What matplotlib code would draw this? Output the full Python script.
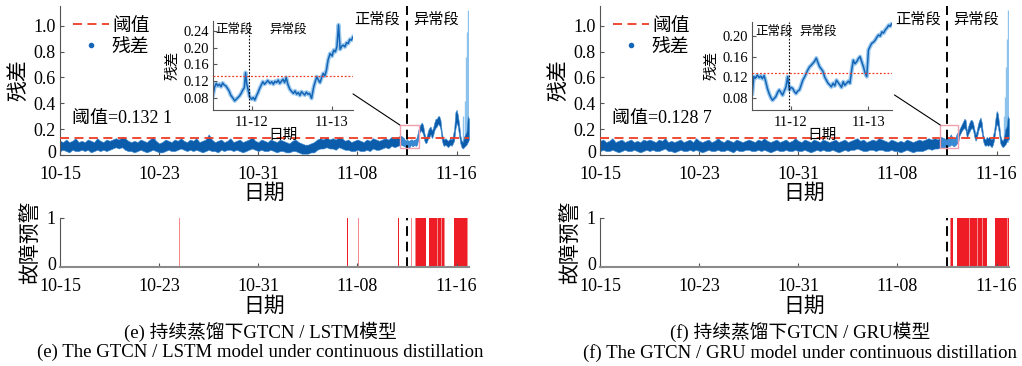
import numpy as np
import matplotlib.pyplot as plt
from matplotlib.patches import Rectangle, ConnectionPatch
from matplotlib.transforms import ScaledTranslation

plt.rcParams['font.family'] = ['Liberation Serif', 'Noto Sans CJK SC']
plt.rcParams['axes.unicode_minus'] = False

# x axis is in days since 10-15
tick_days = [0, 8, 16, 24, 32]
tick_labels = ['10-15', '10-23', '10-31', '11-08', '11-16']
ins_tick_days = [28, 29]
ins_tick_labels = ['11-12', '11-13']
t_change = 27.97

thr_e = 0.1321
thr_f = 0.1287

# residual band (low / high edge) read every 0.25 day, 10-15 .. 11-11 18:00
lo_e = [0.03, 0.04, 0.03, 0.02, 0.04, 0.03, 0.03, 0.04,
        0.03, 0.04, 0.02, 0.03, 0.04, 0.03, 0.04, 0.03,
        0.04, 0.05, 0.06, 0.05, 0.06, 0.04, 0.03, 0.03,
        0.02, 0.03, 0.04, 0.03, 0.02, 0.03, 0.04, 0.03,
        0.02, 0.02, 0.03, 0.04, 0.03, 0.03, 0.04, 0.05,
        0.04, 0.03, 0.04, 0.03, 0.04, 0.03, 0.02, 0.03,
        0.04, 0.03, 0.03, 0.02, 0.04, 0.03, 0.04, 0.04,
        0.03, 0.04, 0.03, 0.02, 0.03, 0.04, 0.05, 0.04,
        0.03, 0.04, 0.03, 0.03, 0.04, 0.03, 0.02, 0.03,
        0.03, 0.02, 0.02, 0.03, 0.03, 0.02, 0.01, 0.01,
        0.01, 0.02, 0.02, 0.04, 0.05, 0.05, 0.06, 0.05,
        0.05, 0.04, 0.06, 0.05, 0.04, 0.04, 0.03, 0.03,
        0.04, 0.03, 0.03, 0.04, 0.03, 0.05, 0.04, 0.04,
        0.05, 0.06, 0.05, 0.07, 0.06, 0.07, 0.08, 0.07]
hi_e = [0.11, 0.10, 0.12, 0.10, 0.11, 0.13, 0.10, 0.11,
        0.10, 0.12, 0.11, 0.10, 0.13, 0.11, 0.10, 0.12,
        0.11, 0.12, 0.13, 0.12, 0.14, 0.13, 0.11, 0.10,
        0.11, 0.10, 0.12, 0.11, 0.10, 0.12, 0.14, 0.11,
        0.09, 0.10, 0.12, 0.11, 0.10, 0.12, 0.11, 0.13,
        0.11, 0.10, 0.12, 0.11, 0.13, 0.10, 0.11, 0.12,
        0.16, 0.12, 0.10, 0.11, 0.12, 0.10, 0.11, 0.13,
        0.10, 0.11, 0.12, 0.10, 0.11, 0.12, 0.14, 0.11,
        0.10, 0.12, 0.11, 0.10, 0.12, 0.11, 0.10, 0.12,
        0.11, 0.10, 0.09, 0.11, 0.12, 0.10, 0.09, 0.08,
        0.08, 0.09, 0.10, 0.12, 0.13, 0.12, 0.14, 0.12,
        0.13, 0.12, 0.14, 0.13, 0.11, 0.12, 0.10, 0.11,
        0.12, 0.11, 0.10, 0.12, 0.11, 0.13, 0.12, 0.11,
        0.12, 0.13, 0.12, 0.14, 0.13, 0.14, 0.15, 0.13]
lo_f = [0.03, 0.04, 0.03, 0.03, 0.04, 0.03, 0.02, 0.03,
        0.04, 0.03, 0.03, 0.04, 0.03, 0.02, 0.03, 0.04,
        0.03, 0.04, 0.03, 0.03, 0.04, 0.05, 0.03, 0.03,
        0.02, 0.03, 0.04, 0.03, 0.03, 0.04, 0.03, 0.04,
        0.03, 0.02, 0.03, 0.04, 0.03, 0.03, 0.04, 0.03,
        0.03, 0.04, 0.03, 0.02, 0.04, 0.03, 0.03, 0.04,
        0.04, 0.03, 0.03, 0.04, 0.03, 0.04, 0.03, 0.02,
        0.03, 0.04, 0.03, 0.03, 0.04, 0.03, 0.03, 0.04,
        0.03, 0.03, 0.04, 0.03, 0.02, 0.03, 0.04, 0.03,
        0.04, 0.03, 0.03, 0.04, 0.03, 0.02, 0.03, 0.04,
        0.03, 0.04, 0.04, 0.05, 0.04, 0.03, 0.03, 0.04,
        0.04, 0.03, 0.04, 0.04, 0.03, 0.03, 0.04, 0.03,
        0.03, 0.02, 0.03, 0.04, 0.03, 0.02, 0.03, 0.03,
        0.03, 0.04, 0.05, 0.04, 0.05, 0.05, 0.06, 0.06]
hi_f = [0.11, 0.12, 0.10, 0.11, 0.13, 0.10, 0.11, 0.12,
        0.10, 0.11, 0.12, 0.10, 0.11, 0.10, 0.12, 0.11,
        0.12, 0.11, 0.10, 0.12, 0.11, 0.13, 0.10, 0.11,
        0.10, 0.11, 0.12, 0.10, 0.11, 0.12, 0.10, 0.13,
        0.11, 0.10, 0.11, 0.12, 0.10, 0.11, 0.13, 0.11,
        0.10, 0.12, 0.11, 0.10, 0.12, 0.11, 0.10, 0.11,
        0.12, 0.11, 0.10, 0.12, 0.11, 0.13, 0.11, 0.10,
        0.11, 0.12, 0.10, 0.11, 0.12, 0.10, 0.11, 0.13,
        0.11, 0.10, 0.12, 0.11, 0.10, 0.12, 0.11, 0.10,
        0.12, 0.11, 0.10, 0.11, 0.12, 0.10, 0.11, 0.12,
        0.10, 0.11, 0.12, 0.13, 0.11, 0.12, 0.10, 0.11,
        0.12, 0.11, 0.13, 0.12, 0.11, 0.10, 0.12, 0.11,
        0.10, 0.11, 0.10, 0.12, 0.11, 0.10, 0.11, 0.12,
        0.11, 0.12, 0.13, 0.12, 0.13, 0.12, 0.14, 0.13]

# abnormal stretch read every 0.1 day, 27.8 .. 33.0
alo_e = [0.07, 0.06, 0.07, 0.06, 0.06, 0.08, 0.07, 0.07, 0.08, 0.07,
         0.08, 0.12, 0.17, 0.19, 0.18, 0.16, 0.11, 0.09, 0.10, 0.13,
         0.14, 0.16, 0.13, 0.15, 0.19, 0.21, 0.22, 0.24, 0.23, 0.20,
         0.12, 0.08, 0.07, 0.08, 0.07, 0.06, 0.07, 0.08, 0.07, 0.09,
         0.11, 0.20, 0.25, 0.22, 0.15, 0.09, 0.06, 0.05, 0.06, 0.07,
         0.08, 0.10, 0.12]
ahi_e = [0.12, 0.11, 0.12, 0.11, 0.11, 0.12, 0.12, 0.11, 0.12, 0.12,
         0.14, 0.19, 0.22, 0.24, 0.25, 0.23, 0.17, 0.13, 0.15, 0.19,
         0.21, 0.22, 0.19, 0.21, 0.25, 0.28, 0.28, 0.30, 0.30, 0.27,
         0.18, 0.13, 0.12, 0.13, 0.12, 0.11, 0.12, 0.13, 0.12, 0.15,
         0.20, 0.33, 0.35, 0.31, 0.24, 0.15, 0.11, 0.10, 0.14, 0.16,
         0.18, 0.30, 0.28]
alo_f = [0.06, 0.07, 0.06, 0.07, 0.07, 0.08, 0.08, 0.07, 0.07, 0.08,
         0.09, 0.10, 0.15, 0.17, 0.19, 0.20, 0.21, 0.19, 0.13, 0.16,
         0.18, 0.20, 0.21, 0.19, 0.14, 0.11, 0.13, 0.18, 0.21, 0.22,
         0.17, 0.11, 0.08, 0.07, 0.08, 0.07, 0.08, 0.07, 0.06, 0.08,
         0.12, 0.19, 0.24, 0.22, 0.16, 0.09, 0.07, 0.06, 0.07, 0.08,
         0.10, 0.12, 0.12]
ahi_f = [0.12, 0.13, 0.12, 0.13, 0.14, 0.16, 0.14, 0.12, 0.13, 0.14,
         0.17, 0.16, 0.20, 0.22, 0.24, 0.26, 0.28, 0.27, 0.18, 0.22,
         0.25, 0.27, 0.27, 0.25, 0.20, 0.16, 0.19, 0.24, 0.27, 0.29,
         0.25, 0.16, 0.13, 0.12, 0.14, 0.13, 0.14, 0.13, 0.12, 0.15,
         0.19, 0.28, 0.34, 0.32, 0.24, 0.15, 0.12, 0.11, 0.14, 0.20,
         0.22, 0.30, 0.28]

# light blue outliers at the very end
spk_t_e = [32.55, 32.65, 32.75, 32.82, 32.88, 32.93, 32.98]
spk_v_e = [0.30, 0.42, 0.76, 0.95, 1.12, 0.85, 0.55]
spk_t_f = [32.60, 32.70, 32.78, 32.85, 32.90, 32.95, 33.00]
spk_v_f = [0.30, 0.45, 0.68, 0.90, 1.12, 0.80, 0.50]

# inset series (day, residual)
ins_e = [(27.52, 0.086), (27.54, 0.105), (27.56, 0.114), (27.58, 0.108), (27.60, 0.112),
         (27.62, 0.106), (27.64, 0.115), (27.66, 0.110), (27.68, 0.108), (27.70, 0.102),
         (27.72, 0.096), (27.74, 0.086), (27.77, 0.078), (27.79, 0.072), (27.81, 0.076),
         (27.83, 0.080), (27.85, 0.084), (27.87, 0.090), (27.89, 0.098), (27.91, 0.104),
         (27.925, 0.140), (27.94, 0.112), (27.955, 0.100), (27.975, 0.082), (28.00, 0.076),
         (28.02, 0.080), (28.04, 0.074), (28.06, 0.084), (28.08, 0.092), (28.10, 0.102),
         (28.12, 0.110), (28.14, 0.118), (28.16, 0.112), (28.18, 0.116), (28.20, 0.121),
         (28.23, 0.114), (28.25, 0.118), (28.27, 0.112), (28.29, 0.119), (28.31, 0.116),
         (28.33, 0.122), (28.35, 0.114), (28.37, 0.119), (28.39, 0.124), (28.41, 0.116),
         (28.43, 0.128), (28.45, 0.112), (28.475, 0.100), (28.50, 0.094), (28.52, 0.090),
         (28.54, 0.096), (28.56, 0.088), (28.58, 0.092), (28.60, 0.085), (28.62, 0.094),
         (28.64, 0.090), (28.66, 0.086), (28.68, 0.093), (28.70, 0.088), (28.72, 0.090),
         (28.745, 0.078), (28.77, 0.104), (28.79, 0.118), (28.81, 0.130), (28.83, 0.122),
         (28.85, 0.116), (28.87, 0.128), (28.89, 0.138), (28.91, 0.132), (28.93, 0.146),
         (28.95, 0.170), (28.975, 0.186), (29.00, 0.180), (29.02, 0.194), (29.04, 0.190),
         (29.06, 0.202), (29.08, 0.255), (29.10, 0.196), (29.12, 0.204), (29.14, 0.206),
         (29.16, 0.202), (29.18, 0.212), (29.20, 0.210), (29.22, 0.220), (29.24, 0.218),
         (29.26, 0.226)]
ins_f = [(27.50, 0.088), (27.52, 0.121), (27.54, 0.118), (27.565, 0.124), (27.59, 0.119),
         (27.61, 0.122), (27.63, 0.117), (27.652, 0.123), (27.674, 0.111), (27.695, 0.098),
         (27.717, 0.088), (27.74, 0.080), (27.761, 0.075), (27.78, 0.078), (27.804, 0.082),
         (27.826, 0.090), (27.848, 0.095), (27.87, 0.090), (27.891, 0.085), (27.91, 0.092),
         (27.935, 0.101), (27.957, 0.121), (27.978, 0.095), (28.00, 0.100), (28.022, 0.098),
         (28.043, 0.092), (28.065, 0.088), (28.087, 0.093), (28.109, 0.095), (28.13, 0.104),
         (28.152, 0.114), (28.174, 0.120), (28.196, 0.127), (28.217, 0.134), (28.239, 0.140),
         (28.26, 0.143), (28.283, 0.147), (28.305, 0.151), (28.326, 0.157), (28.348, 0.148),
         (28.37, 0.140), (28.39, 0.136), (28.413, 0.131), (28.435, 0.120), (28.457, 0.114),
         (28.478, 0.108), (28.50, 0.105), (28.52, 0.101), (28.543, 0.108), (28.565, 0.103),
         (28.587, 0.114), (28.61, 0.109), (28.63, 0.105), (28.652, 0.100), (28.674, 0.111),
         (28.695, 0.104), (28.717, 0.108), (28.74, 0.112), (28.761, 0.108), (28.78, 0.130),
         (28.804, 0.153), (28.826, 0.146), (28.848, 0.150), (28.87, 0.156), (28.891, 0.160),
         (28.913, 0.150), (28.935, 0.140), (28.957, 0.128), (28.978, 0.121), (29.00, 0.173),
         (29.022, 0.180), (29.043, 0.186), (29.065, 0.188), (29.087, 0.192), (29.11, 0.198),
         (29.13, 0.202), (29.152, 0.200), (29.174, 0.208), (29.196, 0.206), (29.217, 0.212),
         (29.24, 0.216), (29.261, 0.221), (29.28, 0.219), (29.30, 0.224)]

# zoom box on main plot: x0, x1, y0, y1
box_e = (27.42, 28.95, 0.054, 0.232)
box_f = (27.45, 28.90, 0.054, 0.232)

# fault warning (alarm) intervals
al_s_e = [23.13, 27.28, 28.76, 29.78, 30.46, 30.86, 31.77, 32.96]
al_e_e = [23.21, 27.37, 29.57, 30.38, 30.78, 31.00, 32.80, 33.00]
al_thin_e = [9.68, 24.06, 28.40, 28.72, 30.42, 30.82, 31.05, 32.88]
al_s_f = [28.20, 28.28, 28.77, 29.84, 30.52, 30.92, 31.84, 32.94]
al_e_f = [28.24, 28.50, 29.77, 30.44, 30.84, 31.25, 32.86, 33.00]
al_thin_f = [28.26, 29.80, 30.48, 30.88, 31.15, 32.90]

t_norm = np.arange(0, 28, 0.25)
t_anom = np.round(np.arange(27.8, 33.05, 0.1), 2)

BLUE = '#0b5cab'
RED = '#ee1c25'
PALE = '#f28a8e'
THR = '#f03c24'
AXC = '#555555'
SERIF = ['Liberation Serif', 'Noto Sans CJK SC']

panels = [
    dict(x=0.0587, lo=lo_e, hi=hi_e, alo=alo_e, ahi=ahi_e, st=spk_t_e, sv=spk_v_e,
         thr=thr_e, thr_txt='阈值=0.132 1', ins=ins_e, ins_pos=[0.2084, 0.6995, 0.137, 0.244],
         ins_ylim=(0.05, 0.265), ins_yt=[0.08, 0.12, 0.16, 0.20, 0.24], box=box_e, conn=(1.0, 0.18),
         ins_txt=(27.55, 28.22, 0.244),
         a_s=al_s_e, a_e=al_e_e, a_t=al_thin_e,
         cap1='(e) 持续蒸馏下GTCN / LSTM模型',
         cap2='(e) The GTCN / LSTM model under continuous distillation'),
    dict(x=0.5871, lo=lo_f, hi=hi_f, alo=alo_f, ahi=ahi_f, st=spk_t_f, sv=spk_v_f,
         thr=thr_f, thr_txt='阈值=0.128 7', ins=ins_f, ins_pos=[0.7361, 0.6995, 0.1364, 0.2413],
         ins_ylim=(0.056, 0.228), ins_yt=[0.08, 0.12, 0.16, 0.20], box=box_f, conn=(1.02, 0.17),
         ins_txt=(27.54, 28.11, 0.208),
         a_s=al_s_f, a_e=al_e_f, a_t=al_thin_f,
         cap1='(f) 持续蒸馏下GTCN / GRU模型',
         cap2='(f) The GTCN / GRU model under continuous distillation'),
]

fig = plt.figure(figsize=(10.22, 3.66), dpi=100)
lift = ScaledTranslation(0, 2.5 / 72, fig.dpi_scale_trans)


def style(ax, size=13, xpad=8):
    for s in ['top', 'right']:
        ax.spines[s].set_visible(False)
    for s in ['left', 'bottom']:
        ax.spines[s].set_color(AXC)
        ax.spines[s].set_linewidth(0.8)
    ax.tick_params(direction='in', length=3, color=AXC, labelsize=size)
    ax.tick_params(axis='x', pad=xpad)
    ax.tick_params(axis='y', pad=3)
    for lab in ax.get_xticklabels() + ax.get_yticklabels():
        lab.set_fontfamily(SERIF)


def lift_zero(ax):
    # the '0' label sits a little above the axis line, as in the original
    lab = ax.yaxis.get_major_ticks()[0].label1
    lab.set_transform(lab.get_transform() + lift)


for p in panels:
    ax = fig.add_axes([p['x'], 0.5765, 0.4002, 0.4071])
    t = np.concatenate([t_norm, t_anom])
    lo = np.array(p['lo'] + p['alo'])
    hi = np.array(p['hi'] + p['ahi'])

    ax.vlines(p['st'], 0.1, p['sv'], color='#8cc2ec', lw=1.0, zorder=1.5)
    ax.fill_between(t, lo, hi, facecolor=BLUE, edgecolor='#3f8bd0', lw=0.4, zorder=2)
    b = p['box']
    m = (t >= b[0]) & (t <= b[1])
    ax.fill_between(t[m], lo[m], hi[m], color='#3a8ad3', lw=0, zorder=2.5)
    hthr = ax.axhline(p['thr'], color=THR, ls=(0, (5, 3)), lw=1.3, zorder=3)
    hdot, = ax.plot([], [], 'o', ms=3, color='#1666b8')
    ax.axvline(t_change, color='k', ls=(0, (5, 3)), lw=1.4, zorder=4)
    ax.add_patch(Rectangle((b[0], b[2]), b[1] - b[0], b[3] - b[2], fill=False,
                           edgecolor='#f2a0ae', lw=1.0, zorder=5))

    ax.set_xlim(0, 33)
    ax.set_ylim(0, 1.152)
    ax.set_xticks(tick_days)
    ax.set_xticklabels(tick_labels)
    ax.set_yticks([0, 0.2, 0.4, 0.6, 0.8, 1.0])
    ax.set_yticklabels(['0', '0.2', '0.4', '0.6', '0.8', '1.0'])
    style(ax)
    lift_zero(ax)
    ax.set_ylabel('残差', fontsize=15, labelpad=3)
    ax.set_xlabel('日期', fontsize=15, labelpad=1)
    ax.legend([hthr, hdot], ['阈值', '残差'], loc='upper left', bbox_to_anchor=(0.01, 0.985),
              frameon=False, fontsize=13.5, handlelength=1.9, handletextpad=0.15,
              labelspacing=0.2, borderaxespad=0.1)
    ax.text(0.95, 0.28, p['thr_txt'], fontsize=13, va='center', ha='left')
    ax.text(t_change - 0.5, 1.05, '正常段', fontsize=11, ha='right', va='center')
    ax.text(t_change + 0.5, 1.05, '异常段', fontsize=11, ha='left', va='center')

    # inset
    ins = fig.add_axes(p['ins_pos'])
    it, iv = zip(*p['ins'])
    ins.plot(it, iv, color='#9cc9ee', lw=3.0, zorder=1)
    ins.plot(it, iv, color='#1565b6', lw=1.1, zorder=2)
    ins.axhline(p['thr'], color=THR, ls=(0, (1.5, 1.5)), lw=0.9, zorder=3)
    ins.axvline(t_change, color='k', ls=(0, (1.5, 1.5)), lw=0.8, zorder=3)
    ins.set_xlim(it[0], it[-1])
    ins.set_ylim(*p['ins_ylim'])
    ins.set_xticks(ins_tick_days)
    ins.set_xticklabels(ins_tick_labels)
    ins.set_yticks(p['ins_yt'])
    ins.set_yticklabels(['%.2f' % v for v in p['ins_yt']])
    ins.patch.set_alpha(0)
    style(ins, size=10.5, xpad=4)
    ins.set_ylabel('残差', fontsize=10.5, labelpad=3)
    ins.set_xlabel('日期', fontsize=10.5, labelpad=0)
    x1, x2, ty = p['ins_txt']
    ins.text(x1, ty, '正常段', fontsize=9, va='center')
    ins.text(x2, ty, '异常段', fontsize=9, va='center')

    con = ConnectionPatch(xyA=p['conn'], coordsA=ins.transAxes, xyB=(b[0], b[3]),
                          coordsB=ax.transData, color='k', lw=0.8)
    fig.add_artist(con)

    # fault warning panel
    ax2 = fig.add_axes([p['x'], 0.2713, 0.4002, 0.1339])
    widths = [e - s for s, e in zip(p['a_s'], p['a_e'])]
    ax2.bar(p['a_t'], [1] * len(p['a_t']), width=0.08, color=PALE, lw=0)
    ax2.bar(p['a_s'], [1] * len(widths), width=widths, align='edge', color=RED, lw=0)
    ax2.axvline(t_change, color='k', ls=(0, (5, 3)), lw=1.4)
    ax2.set_xlim(0, 33)
    ax2.set_ylim(0, 1)
    ax2.set_xticks(tick_days)
    ax2.set_xticklabels(tick_labels)
    ax2.set_yticks([0, 1])
    ax2.set_yticklabels(['0', '1'])
    style(ax2)
    lift_zero(ax2)
    ax2.spines['bottom'].set_color('#8a8a8a')
    ax2.spines['bottom'].set_linewidth(1.5)
    ax2.set_ylabel('故障预警', fontsize=15, labelpad=4)
    ax2.set_xlabel('日期', fontsize=15, labelpad=2)

    cx = p['x'] + 0.4002 * 0.49
    fig.text(cx, 0.093, p['cap1'], fontsize=13.5, ha='center', va='center')
    fig.text(cx, 0.036, p['cap2'], fontsize=13.5, ha='center', va='center')

fig.savefig('out.png', dpi=100)
